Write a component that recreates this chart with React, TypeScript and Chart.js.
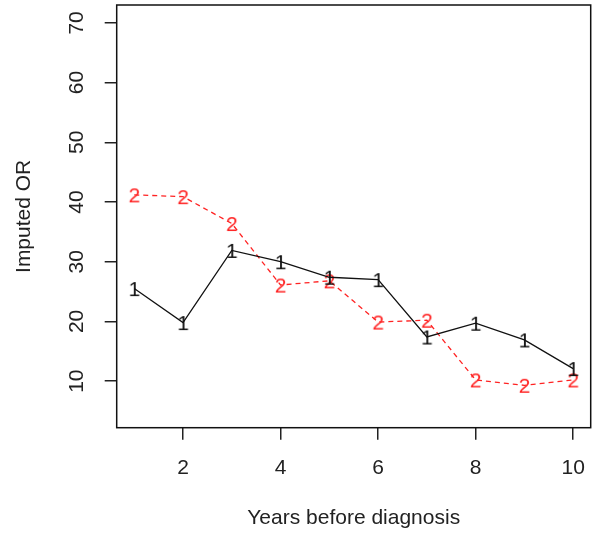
import React, { useEffect, useRef } from "react";
import { Chart, registerables } from "chart.js";

Chart.register(...registerables);

const years = [1, 2, 3, 4, 5, 6, 7, 8, 9, 10];
const series1 = [25.5, 19.8, 31.9, 30.0, 27.4, 27.0, 17.4, 19.7, 16.9, 12.1];
const series2 = [41.2, 40.9, 36.4, 26.1, 26.8, 19.9, 20.2, 10.2, 9.3, 10.2];
const xTicks = [2, 4, 6, 8, 10];
const yTicks = [10, 20, 30, 40, 50, 60, 70];
const xTitle = "Years before diagnosis";
const yTitle = "Imputed OR";

const FONT = '"Liberation Sans", Arial, sans-serif';

function makeGlyph(ch: string, color: string, size: number) {
  const c = document.createElement("canvas");
  c.width = Math.round(size * 0.9);
  c.height = Math.round(size * 1.1);
  const ctx = c.getContext("2d")!;
  ctx.font = `${size}px ${FONT}`;
  ctx.fillStyle = color;
  ctx.textAlign = "center";
  ctx.textBaseline = "alphabetic";
  ctx.fillText(ch, c.width / 2, c.height / 2 + (size * 0.716) / 2);
  return c;
}

const boxPlugin = {
  id: "rbox",
  beforeDatasetsDraw(chart: any) {
    const { ctx, chartArea } = chart;
    ctx.save();
    ctx.strokeStyle = "#111";
    ctx.lineWidth = 1.5;
    ctx.strokeRect(chartArea.left, chartArea.top, chartArea.right - chartArea.left, chartArea.bottom - chartArea.top);
    ctx.restore();
  },
};

function zeroPad(s: any) {
  s.paddingTop = 0;
  s.paddingBottom = 0;
  s.paddingLeft = 0;
  s.paddingRight = 0;
}

export default function App() {
  const ref = useRef<HTMLCanvasElement | null>(null);
  useEffect(() => {
    if (!ref.current) return;
    const g1 = makeGlyph("1", "#111", 21);
    const g2 = makeGlyph("2", "#ff2222", 21);
    const chart = new Chart(ref.current, {
      type: "line",
      data: {
        datasets: [
          {
            label: "1",
            data: years.map((x, i) => ({ x, y: series1[i] })),
            borderColor: "#111",
            borderWidth: 1.3,
            pointStyle: g1 as any,
            pointRadius: 8,
            tension: 0,
            clip: false as any,
          },
          {
            label: "2",
            data: years.map((x, i) => ({ x, y: series2[i] })),
            borderColor: "#ff2222",
            borderWidth: 1.3,
            borderDash: [5, 4],
            pointStyle: g2 as any,
            pointRadius: 8,
            tension: 0,
            clip: false as any,
          },
        ],
      },
      options: {
        animation: false,
        responsive: false,
        devicePixelRatio: 1,
        layout: { autoPadding: false, padding: { top: 5, right: 1.3, left: 0, bottom: 0 } },
        plugins: { legend: { display: false }, tooltip: { enabled: false } },
        scales: {
          x: {
            type: "linear",
            min: 0.64,
            max: 10.36,
            afterBuildTicks: (s: any) => {
              s.ticks = xTicks.map((v) => ({ value: v }));
            },
            afterFit: (s: any) => {
              s.height = 105.3;
              zeroPad(s);
            },
            border: { display: false },
            grid: { drawOnChartArea: false, drawTicks: true, tickLength: 12, color: "#222", lineWidth: 1.5 },
            ticks: {
              color: "#222",
              font: { family: FONT, size: 21 },
              padding: 16,
              maxRotation: 0,
              autoSkip: false,
            },
            title: {
              display: true,
              text: xTitle,
              color: "#222",
              font: { family: FONT, size: 21 },
              padding: { top: 0, bottom: 2 },
            },
          },
          y: {
            type: "linear",
            min: 2.2,
            max: 73,
            afterBuildTicks: (s: any) => {
              s.ticks = yTicks.map((v) => ({ value: v }));
            },
            afterFit: (s: any) => {
              s.width = 116.7;
              zeroPad(s);
            },
            border: { display: false },
            grid: { drawOnChartArea: false, drawTicks: true, tickLength: 12, color: "#222", lineWidth: 1.5 },
            ticks: {
              color: "#222",
              font: { family: FONT, size: 21 },
              padding: 16,
              minRotation: 90,
              maxRotation: 90,
              crossAlign: "center",
              autoSkip: false,
            },
            title: {
              display: true,
              text: yTitle,
              color: "#222",
              font: { family: FONT, size: 21 },
              padding: { top: 12, bottom: 0 },
            },
          },
        },
      },
      plugins: [boxPlugin],
    });
    return () => chart.destroy();
  }, []);
  return (
    <div style={{ position: "absolute", left: 0, top: 0, width: 592, height: 533, background: "#fff" }}>
      <canvas ref={ref} width={592} height={533} />
    </div>
  );
}
